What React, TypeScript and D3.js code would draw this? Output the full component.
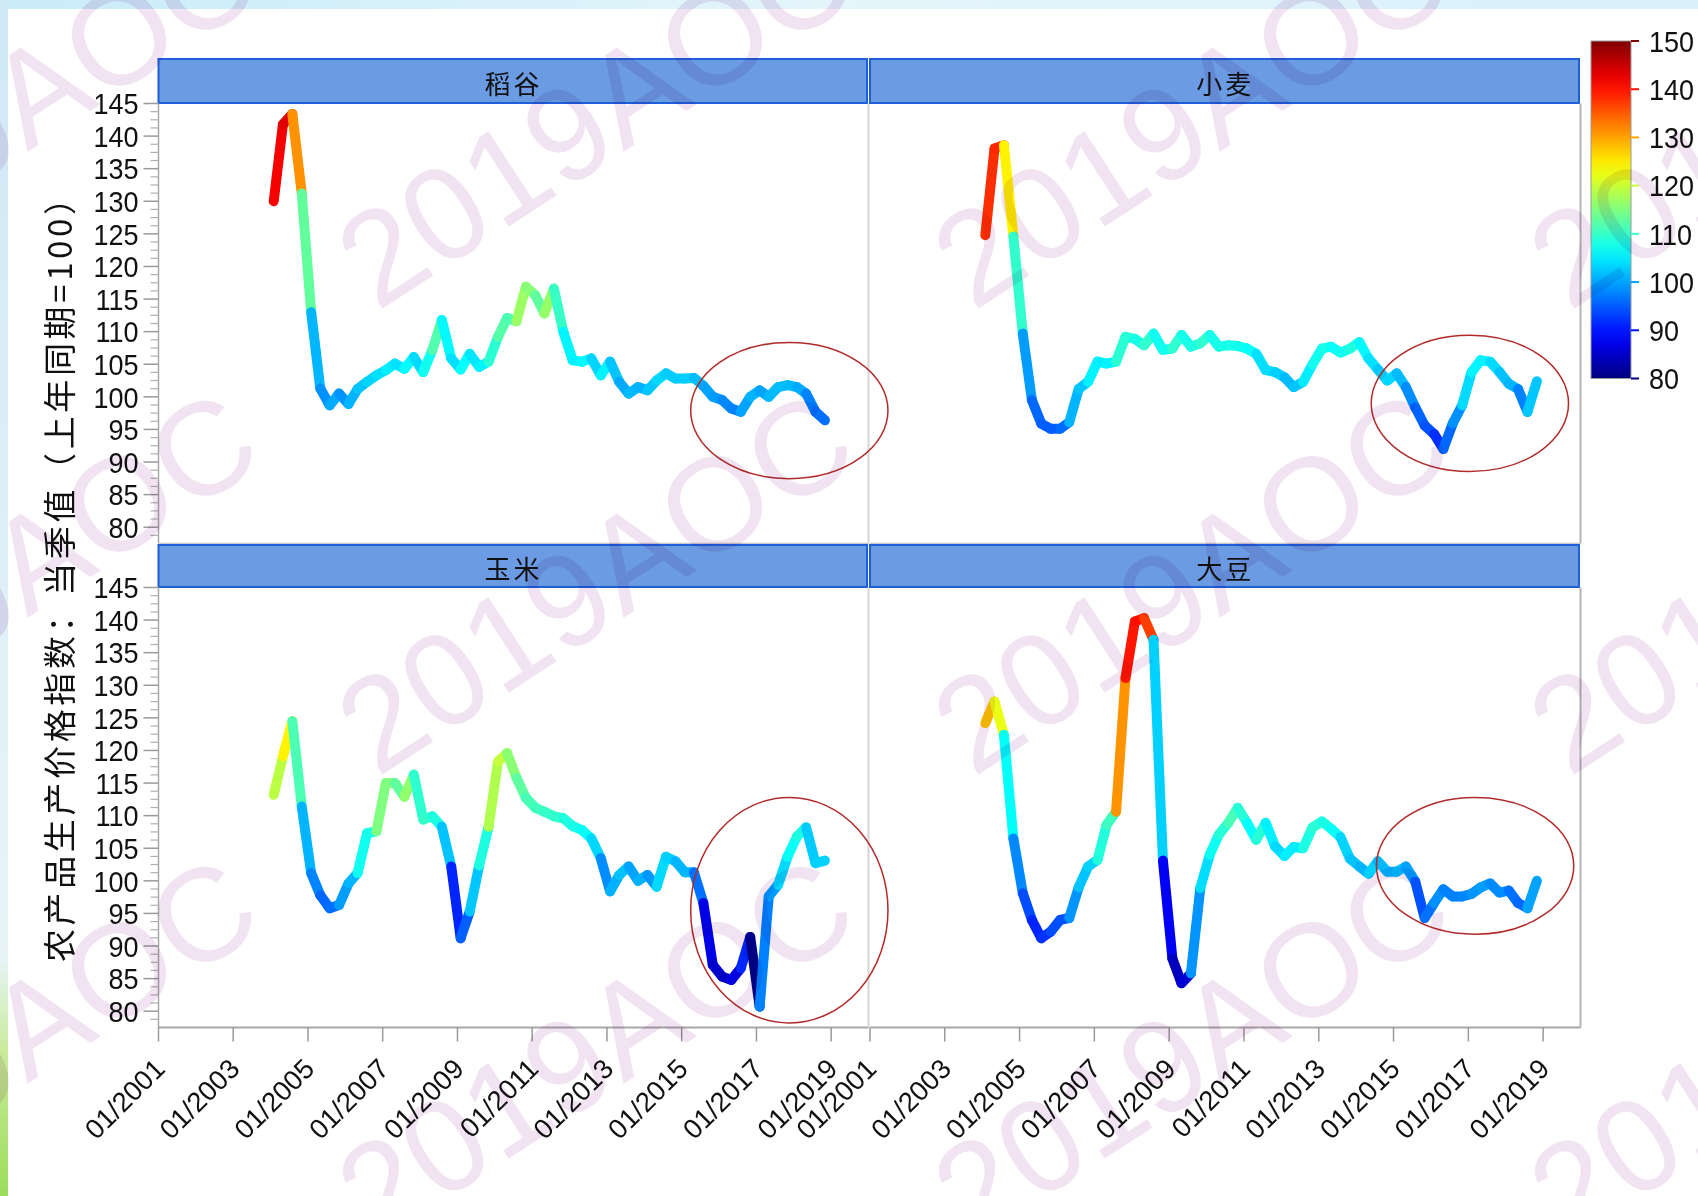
import React from 'react';
import * as d3 from 'd3';

const W = 1698;
const H = 1196;

const panelNames = ['稻谷', '小麦', '玉米', '大豆'];
const yTitle = '农产品生产价格指数：当季值（上年同期=100）';
const watermark = '2019AOC';
const firstYear = 2004;

// quarterly values, 2004Q1 .. 2018Q4
const rice = [130.0, 141.8, 143.4, 131.2, 113.0, 101.3, 98.7, 100.5, 98.9, 101.2,
  102.3, 103.3, 104.1, 105.1, 104.3, 106.1, 103.8, 107.2, 111.8, 105.9,
  104.2, 106.6, 104.6, 105.4, 109.2, 112.1, 111.6, 116.9, 115.6, 112.8,
  116.6, 110.0, 105.6, 105.4, 105.9, 103.3, 105.4, 102.3, 100.5, 101.5,
  101.0, 102.5, 103.6, 102.8, 102.8, 102.9, 101.7, 100.0, 99.5, 98.2,
  97.7, 100.0, 101.0, 100.0, 101.5, 101.8, 101.5, 100.5, 97.7, 96.4];
const wheat = [124.8, 138.1, 138.6, 124.6, 109.7, 99.5, 95.9, 95.1, 95.1, 96.1,
  101.2, 102.3, 105.4, 105.1, 105.4, 109.2, 108.9, 107.9, 109.7, 107.2,
  107.4, 109.5, 107.7, 108.2, 109.5, 107.7, 107.9, 107.8, 107.4, 106.6,
  104.1, 103.8, 103.0, 101.5, 102.3, 105.0, 107.4, 107.7, 106.8, 107.4,
  108.4, 105.9, 104.2, 102.5, 103.6, 101.5, 98.4, 95.6, 94.3, 92.0,
  95.9, 98.7, 103.8, 105.6, 105.4, 103.8, 102.0, 101.2, 97.7, 102.4];
const corn = [113.2, 119.1, 124.5, 111.4, 101.2, 97.8, 95.8, 96.3, 99.6, 101.2,
  107.3, 107.6, 115.0, 115.0, 112.9, 116.3, 109.4, 109.9, 108.3, 102.2,
  91.2, 95.3, 102.4, 108.3, 118.3, 119.6, 115.8, 112.7, 111.2, 110.6,
  109.9, 109.6, 108.4, 107.8, 106.5, 103.5, 98.4, 100.9, 102.2, 100.0,
  100.9, 99.1, 103.7, 103.0, 101.3, 101.3, 96.6, 87.1, 85.3, 84.8,
  86.6, 91.4, 80.7, 97.6, 99.4, 103.7, 106.8, 108.2, 102.7, 103.1];
const soy = [124.2, 127.5, 122.4, 106.5, 98.1, 94.0, 91.2, 92.2, 94.0, 94.3,
  99.0, 102.2, 103.2, 108.6, 110.6, 131.1, 139.8, 140.3, 137.0, 103.1,
  88.1, 84.3, 85.8, 98.9, 104.0, 107.1, 108.9, 111.2, 108.9, 106.3,
  108.9, 105.3, 103.8, 105.2, 105.0, 108.2, 109.1, 108.0, 106.7, 103.4,
  102.2, 101.1, 103.0, 101.4, 101.4, 102.2, 99.9, 94.3, 96.6, 98.7,
  97.6, 97.6, 98.0, 99.0, 99.6, 98.2, 98.5, 96.6, 95.8, 100.0];

const yTicks = [80, 85, 90, 95, 100, 105, 110, 115, 120, 125, 130, 135, 140, 145];
const xTickYears = [2001, 2003, 2005, 2007, 2009, 2011, 2013, 2015, 2017, 2019];
const colorTicks = [80, 90, 100, 110, 120, 130, 140, 150];

// highlight ellipses: center (fractional year, index value), radii (years, index points)
const ellipseYear = [2017.88, 2017.04, 2017.88, 2017.18];
const ellipseValue = [97.9, 99.0, 95.5, 102.3];
const ellipseRYears = [2.64, 2.64, 2.64, 2.64];
const ellipseRValue = [10.45, 10.45, 17.3, 10.5];

function clamp01(v: number) { return Math.max(0, Math.min(1, v)); }
function jet(t: number) {
  const r = clamp01(Math.min(4 * t - 1.5, -4 * t + 4.5));
  const g = clamp01(Math.min(4 * t - 0.5, -4 * t + 3.5));
  const b = clamp01(Math.min(4 * t + 0.5, -4 * t + 2.5));
  return d3.rgb(r * 255, g * 255, b * 255).formatHex();
}
function fracYearDate(f: number) {
  const yr = Math.floor(f);
  const d0 = new Date(yr, 0, 1).getTime();
  const d1 = new Date(yr + 1, 0, 1).getTime();
  return new Date(d0 + (f - yr) * (d1 - d0));
}
const quarterDate = (i: number) => new Date(firstYear + Math.floor(i / 4), (i % 4) * 3 + 1, 1);

const NUM_FONT = "'Liberation Sans', Arial, sans-serif";
const CJK_FONT = "'Noto Sans CJK SC', sans-serif";

export default function App() {
  const series = [rice, wheat, corn, soy];
  const color = d3.scaleSequential((t: number) => jet(t)).domain([80, 150]);

  const colX = [[158.5, 868.5], [870, 1580.5]];
  const rowY = [[103.5, 543.5], [587.5, 1027.5]];
  const headerY = [[59, 103], [545, 587]];

  const cbTop = 41, cbBot = 378.5, cbX = 1591, cbW = 40;
  const cbScale = d3.scaleLinear().domain([80, 150]).range([cbBot, cbTop]);
  const gradStops = d3.range(0, 1.0001, 0.05);

  // watermark tile
  const tileW = 596, tileH = 466, tileX = 317, tileY = -108;
  const wmOffsets = [[-1, -1], [0, -1], [1, -1], [-1, 0], [0, 0], [1, 0], [-1, 1], [0, 1], [1, 1]];

  const panels = panelNames.map((name, k) => {
    const col = k % 2, row = Math.floor(k / 2);
    const [x0, x1] = colX[col];
    const [yT, yB] = rowY[row];
    const x = d3.scaleTime().domain([new Date(2001, 0, 1), new Date(2020, 0, 1)]).range([x0, x1]);
    const y = d3.scaleLinear().domain([77.5, 145]).range([yB, yT]);
    const vals = series[k];
    const segs = vals.slice(1).map((v, j) => ({
      x1: x(quarterDate(j)), y1: y(vals[j]), x2: x(quarterDate(j + 1)), y2: y(v), c: color(v),
    }));
    const ecx = x(fracYearDate(ellipseYear[k]));
    const erx = x(fracYearDate(ellipseYear[k] + ellipseRYears[k])) - ecx;
    const ecy = y(ellipseValue[k]);
    const ery = y(ellipseValue[k] - ellipseRValue[k]) - ecy;
    const minor = d3.range(78.75, 145, 1.25).filter((v) => Math.abs(v / 5 - Math.round(v / 5)) > 0.01);
    return (
      <g key={name}>
        {/* header */}
        <rect x={x0} y={headerY[row][0]} width={x1 - x0 - 1.5} height={headerY[row][1] - headerY[row][0]}
          fill="#6a9be3" stroke="#1f5fd8" strokeWidth={2} />
        <text x={(x0 + x1) / 2} y={(headerY[row][0] + headerY[row][1]) / 2 + 1} textAnchor="middle"
          dominantBaseline="central" fontFamily={CJK_FONT} fontSize={26} fill="#111" letterSpacing={3}>{name}</text>
        {/* plot frame */}
        {col === 0 && <line x1={x0} x2={x0} y1={yT} y2={yB} stroke="#a8a8a8" strokeWidth={1.5} />}
        {col === 1 && <line x1={x1} x2={x1} y1={yT} y2={yB} stroke="#b4b4b4" strokeWidth={2} />}
        {col === 0 && <line x1={x1} x2={x1} y1={yT} y2={yB} stroke="#d6d6d6" strokeWidth={2} />}
        <line x1={x0} x2={x1} y1={yB} y2={yB} stroke={row === 1 ? '#a8a8a8' : '#c8c8c8'} strokeWidth={row === 1 ? 2 : 1.5} />
        {/* y axis */}
        {col === 0 && yTicks.map((t) => (
          <g key={t}>
            <line x1={x0 - 15} x2={x0} y1={y(t)} y2={y(t)} stroke="#9a9a9a" strokeWidth={1.5} />
            <text transform={`translate(${x0 - 20},${y(t)}) scale(0.9,1)`} textAnchor="end" dy="0.36em"
              fontFamily={NUM_FONT} fontSize={30} fill="#111">{t}</text>
          </g>
        ))}
        {col === 0 && minor.map((t) => (
          <line key={'m' + t} x1={x0 - 8} x2={x0} y1={y(t)} y2={y(t)} stroke="#b0b0b0" strokeWidth={1.2} />
        ))}
        {/* x axis */}
        {row === 1 && xTickYears.map((yr) => {
          const tx = x(new Date(yr, 0, 1));
          return (
            <g key={yr}>
              <line x1={tx} x2={tx} y1={yB} y2={yB + 14} stroke="#9a9a9a" strokeWidth={1.5} />
              <text transform={`translate(${tx + 8},${yB + 43}) rotate(-45)`} textAnchor="end"
                fontFamily={NUM_FONT} fontSize={27.5} fill="#111">{`01/${yr}`}</text>
            </g>
          );
        })}
        {/* data */}
        {segs.map((s, j) => (
          <line key={j} x1={s.x1} y1={s.y1} x2={s.x2} y2={s.y2} stroke={s.c} strokeWidth={10}
            strokeLinecap="round" />
        ))}
        {/* highlight */}
        <ellipse cx={ecx} cy={ecy} rx={erx} ry={ery} fill="none" stroke="#b22a2a" strokeWidth={1.5} />
      </g>
    );
  });

  return (
    <svg width={W} height={H} style={{ position: 'absolute', left: 0, top: 0 }} xmlns="http://www.w3.org/2000/svg">
      <defs>
        <linearGradient id="jetGrad" x1="0" y1="1" x2="0" y2="0">
          {gradStops.map((t) => <stop key={t} offset={`${t * 100}%`} stopColor={jet(t)} />)}
        </linearGradient>
        <linearGradient id="topBand" x1="0" y1="0" x2="1" y2="0">
          <stop offset="0%" stopColor="#c9ecf8" />
          <stop offset="50%" stopColor="#e4f5fb" />
          <stop offset="100%" stopColor="#d9f1fa" />
        </linearGradient>
        <linearGradient id="leftBand" x1="0" y1="0" x2="0" y2="1">
          <stop offset="0%" stopColor="#cfe9f6" />
          <stop offset="80%" stopColor="#e8f4f8" />
          <stop offset="88%" stopColor="#c8ec9a" />
          <stop offset="100%" stopColor="#9bdc5a" />
        </linearGradient>
        <pattern id="wmPattern" patternUnits="userSpaceOnUse" x={tileX} y={tileY} width={tileW} height={tileH}>
          {wmOffsets.map(([ox, oy]) => (
            <text key={`${ox}_${oy}`} transform={`translate(${60 + ox * tileW},${420 + oy * tileH}) rotate(-33)`}
              fontFamily={NUM_FONT} fontSize={132} fill="#f1e3f1">{watermark}</text>
          ))}
        </pattern>
      </defs>
      <rect x={0} y={0} width={W} height={H} fill="#ffffff" />
      <rect x={0} y={0} width={W} height={9} fill="url(#topBand)" />
      <rect x={0} y={0} width={8} height={H} fill="url(#leftBand)" />

      {panels}

      {/* y axis title */}
      <text transform={`translate(58,572) rotate(-90)`} textAnchor="middle" dominantBaseline="central"
        fontFamily={CJK_FONT} fontSize={33} fill="#111" textLength={780} lengthAdjust="spacing">{yTitle}</text>

      {/* color bar */}
      <rect x={cbX} y={cbTop} width={cbW} height={cbBot - cbTop} fill="url(#jetGrad)" stroke="#9a9a9a" strokeWidth={1} />
      {colorTicks.map((t) => (
        <g key={t}>
          <line x1={cbX + cbW} x2={cbX + cbW + 8} y1={cbScale(t)} y2={cbScale(t)} stroke={color(t)} strokeWidth={2} />
          <text transform={`translate(${cbX + cbW + 18},${cbScale(t)}) scale(0.9,1)`} dy="0.36em"
            fontFamily={NUM_FONT} fontSize={30} fill="#111">{t}</text>
        </g>
      ))}

      {/* watermark overlay */}
      <rect x={0} y={0} width={W} height={H} fill="url(#wmPattern)" style={{ mixBlendMode: 'multiply' }}
        pointerEvents="none" />
    </svg>
  );
}
